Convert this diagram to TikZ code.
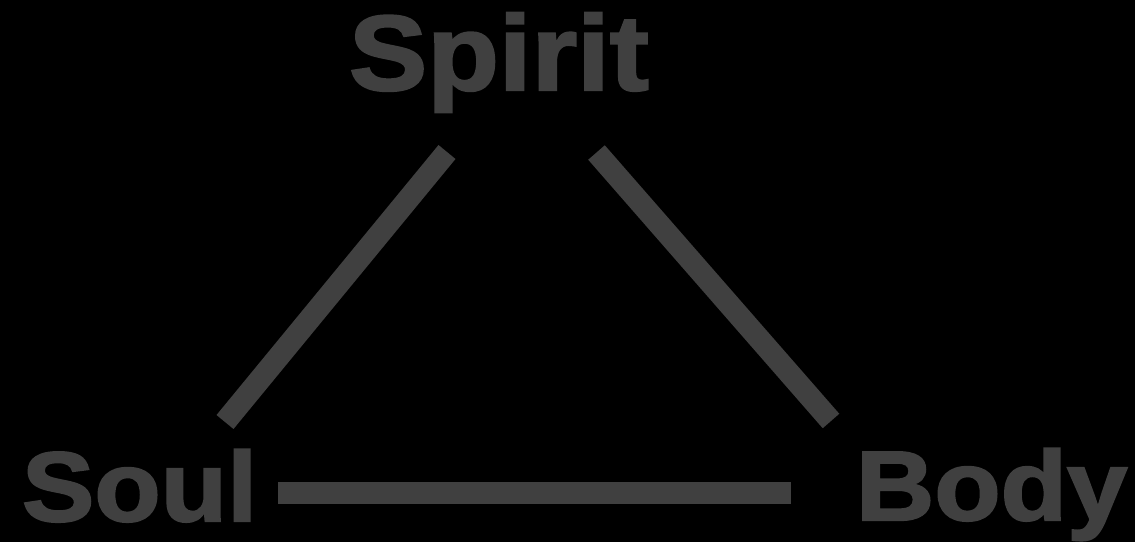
\documentclass[tikz,border=0pt]{standalone}
\usepackage{fontspec}
\setmainfont{Liberation Sans}[BoldFeatures={FakeBold=2.2,FakeStretch=1.1}]
\definecolor{ink}{HTML}{404040}
\begin{document}
\begin{tikzpicture}[x=0.75pt,y=-0.75pt,
  label/.style={inner sep=0pt,outer sep=0pt,anchor=base west,text=ink,font=\bfseries},
  bar/.style={draw=ink,line width=16.5pt,line cap=butt}]
\fill[black] (0,0) rectangle (1135,542);
\useasboundingbox (0,0) rectangle (1135,542);
\node[label,font=\bfseries\fontsize{80pt}{80pt}\selectfont] (spirit) at (349,90) {Spirit};
\node[label,font=\bfseries\fontsize{74pt}{75pt}\selectfont] (soul) at (22,521) {Soul};
\node[label,font=\bfseries\fontsize{74pt}{75pt}\selectfont] (body) at (856,520) {Body};
\coordinate (sl) at (447,152);
\coordinate (ls) at (225,422);
\coordinate (sr) at (596.5,152.5);
\coordinate (rb) at (831,421);
\coordinate (lb) at (278,493);
\coordinate (bl) at (791,493);
\draw[bar] (sl) -- (ls);
\draw[bar] (sr) -- (rb);
\draw[bar] (lb) -- (bl);
\end{tikzpicture}
\end{document}
